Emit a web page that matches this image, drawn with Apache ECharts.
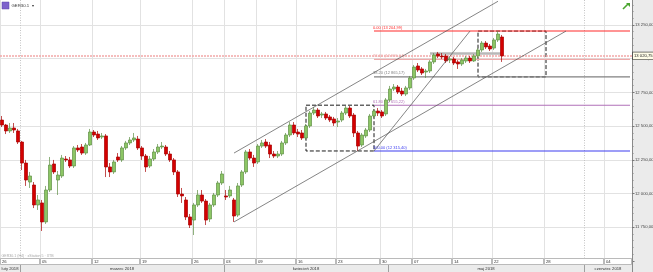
<!DOCTYPE html>
<html><head><meta charset="utf-8">
<script src="https://cdn.jsdelivr.net/npm/echarts/dist/echarts.min.js"></script>
<style>html,body{margin:0;padding:0;background:#fff}#c{width:653px;height:272px}</style>
</head><body><div id="c"></div>
<script>
// ---------- DATA ----------
const days = [
 '2018-02-26','2018-02-27','2018-02-28','2018-03-01','2018-03-02',
 '2018-03-05','2018-03-06','2018-03-07','2018-03-08','2018-03-09',
 '2018-03-12','2018-03-13','2018-03-14','2018-03-15','2018-03-16',
 '2018-03-19','2018-03-20','2018-03-21','2018-03-22','2018-03-23',
 '2018-03-26','2018-03-27','2018-03-28','2018-03-29',
 '2018-04-03','2018-04-04','2018-04-05','2018-04-06',
 '2018-04-09','2018-04-10','2018-04-11','2018-04-12','2018-04-13',
 '2018-04-16','2018-04-17','2018-04-18','2018-04-19','2018-04-20',
 '2018-04-23','2018-04-24','2018-04-25','2018-04-26','2018-04-27',
 '2018-04-30','2018-05-02','2018-05-03','2018-05-04',
 '2018-05-07','2018-05-08','2018-05-09','2018-05-10','2018-05-11',
 '2018-05-14','2018-05-15','2018-05-16','2018-05-17','2018-05-18',
 '2018-05-22','2018-05-23','2018-05-24','2018-05-25',
 '2018-05-28','2018-05-29','2018-05-30','2018-05-31','2018-06-01',
 '2018-06-04','2018-06-05'];
const candlesPerDay = [2,2,1,2,3, 3,3,3,2,2, 3,3,2,2,2, 3,3,3,2,2, 2,2,2,2, 2,2,2,2,
 2,2,2,2,2, 2,2,2,2,2, 3,2,2,2,2, 2,2,2,2, 2,2,2,2,2, 2,2,2,2,2, 2,3,4,4, 3,2,3,2,5, 3,4];

const opens = [12545,12508,12464,12486,12464,12382,12226,12085,12063,11915,
 11930,11789,12026,12219,12100,12130,12256,12249,12204,12338,
 12345,12300,12360,12456,12441,12419,12427,12197,12160,12271,
 12249,12338,12375,12397,12404,12338,12278,12204,12256,12308,
 12345,12345,12293,12249,12160,11996,11952,11826,11803,11915,
 11989,11944,11811,11915,11989,12078,11982,11982,11952,11840,
 12063,12160,12308,12263,12234,12352,12382,12360,12293,12278,
 12293,12375,12434,12508,12456,12449,12412,12501,12597,12619,
 12582,12590,12568,12553,12530,12545,12597,12634,12582,12449,
 12360,12427,12471,12575,12612,12605,12590,12694,12775,12790,
 12760,12738,12783,12857,12946,12924,12901,12909,12976,13035,
 13020,13020,12990,12998,12976,12961,12983,13005,12983,13020,
 13065,13116,13094,13079,13139,13161];
const closes = [12508,12464,12486,12471,12382,12226,12100,12130,11915,11952,
 11789,12026,12211,12160,12137,12263,12249,12204,12338,12323,
 12300,12360,12456,12434,12412,12427,12197,12160,12234,12249,
 12338,12375,12397,12412,12338,12278,12197,12256,12308,12345,
 12352,12293,12249,12160,11996,11982,11826,11766,11915,11989,
 11944,11803,11915,11989,12078,12145,11974,12026,11833,12056,
 12160,12308,12263,12226,12352,12375,12352,12293,12278,12293,
 12375,12434,12508,12449,12441,12412,12501,12597,12619,12575,
 12590,12560,12545,12523,12538,12597,12634,12575,12449,12352,
 12434,12471,12575,12612,12597,12575,12694,12775,12790,12753,
 12738,12783,12857,12938,12916,12894,12909,12976,13027,13020,
 13013,12983,12998,12968,12961,12990,13005,12983,13020,13065,
 13116,13087,13072,13139,13183,13020.75];
const lows = [12493,12441,12449,12449,12367,12174,12056,12041,11892,11878,
 11722,11774,12011,12145,11989,12115,12234,12189,12189,12308,
 12286,12286,12352,12419,12397,12404,12122,12122,12145,12234,
 12234,12323,12360,12382,12323,12249,12160,12189,12241,12293,
 12330,12278,12234,12137,11974,11930,11803,11744,11692,11900,
 11930,11766,11789,11900,11974,12063,11952,11967,11789,11826,
 12048,12145,12249,12197,12219,12338,12338,12263,12263,12263,
 12278,12360,12419,12434,12419,12397,12397,12486,12582,12560,
 12560,12545,12530,12501,12493,12530,12582,12560,12419,12315.4,
 12345,12412,12456,12560,12575,12560,12575,12679,12760,12738,
 12723,12723,12768,12842,12901,12879,12857,12894,12961,13005,
 12998,12968,12968,12953,12924,12946,12968,12968,12976,13005,
 13050,13072,13057,13065,13124,12976];
const highs = [12575,12516,12523,12523,12479,12390,12249,12160,12085,11989,
 11952,12056,12271,12249,12167,12286,12278,12271,12352,12360,
 12367,12375,12479,12471,12464,12449,12441,12226,12249,12300,
 12352,12390,12419,12449,12427,12352,12293,12278,12330,12367,
 12382,12360,12315,12263,12174,12041,11974,11848,11930,12026,
 12026,11959,11930,12004,12093,12167,12026,12056,11967,12078,
 12174,12323,12330,12286,12367,12397,12404,12382,12315,12315,
 12390,12449,12530,12530,12479,12471,12516,12612,12641,12634,
 12605,12605,12582,12568,12560,12612,12649,12649,12597,12464,
 12449,12486,12590,12627,12634,12619,12708,12798,12812,12805,
 12783,12798,12872,12953,12968,12938,12924,12990,13042,13050,
 13042,13035,13013,13013,12990,13005,13020,13020,13035,13079,
 13131,13131,13109,13154,13204.99,13176];

const yTicks = [11750,12000,12250,12500,12750,13000,13250];
const weekTickDays = ['2018-02-26','2018-03-05','2018-03-12','2018-03-19','2018-03-26','2018-04-03','2018-04-09','2018-04-16','2018-04-23','2018-04-30','2018-05-07','2018-05-14','2018-05-22','2018-05-28','2018-06-04'];
const weekTickLabels = ['26','05','12','19','26','03','09','16','23','30','07','14','22','28','04'];
const monthStartDays = ['2018-02-26','2018-03-01','2018-04-03','2018-05-02','2018-06-01'];
const monthLabels = ['luty 2018','marzec 2018','kwiecień 2018','maj 2018','czerwiec 2018'];
const dottedMonthDays = ['2018-03-01','2018-06-01'];

const fibLevels = [0, 23.6, 38.2, 61.8, 100];
const fibValues = [13204.99, 12995.04, 12865.17, 12655.22, 12315.40];
const fibStartIndex = 93;
const lastPrice = 13020.75;
// boxes: [startCandleIndex, endCandleIndex, top, bottom]
const boxes = [[76, 93, 12655.22, 12315.40], [119, 136, 13204.99, 12865.17]];
// trend lines: [idx1, value1, idx2, value2]
const trendLines = [[58, 12300, 124, 13426], [58, 11789, 141, 13205], [93, 12315.40, 117, 13204.99]];
// horizontal resistance zone: [idx1, idx2, value]
const zoneLine = [107, 125, 13042];

// ---------- BUILD ----------
const categories = days.flatMap((d, i) => Array.from({length: candlesPerDay[i]}, (_, k) => d + ' ' + (k + 1)));
const ohlc = opens.map((o, i) => [o, closes[i], lows[i], highs[i]]);
const firstSlot = d => d + ' 1';
const weekIdx = new Set(weekTickDays.map(d => categories.indexOf(firstSlot(d))));
const lastCat = categories[categories.length - 1];

function fmt(v) {
  const [a, b] = Number(v).toFixed(2).split('.');
  return a.replace(/\B(?=(\d{3})+(?!\d))/g, ' ') + ',' + b;
}
const fibColors = ['#ff2a2a', '#eeaaaa', '#808080', '#b070b8', '#3c3cf0'];
const FONT = 'Liberation Sans, Arial, sans-serif';

const fibSeries = fibValues.map((v, i) => ({
  type: 'line', symbol: 'none', silent: true, z: 3,
  lineStyle: {color: fibColors[i], width: 1.1, type: 'solid'},
  itemStyle: {color: fibColors[i]},
  data: [[categories[fibStartIndex], v], [lastCat, v]],
  endLabel: {show: false},
  markPoint: {
    symbol: 'rect', symbolSize: 0.01, silent: true,
    label: {show: true, position: 'right', distance: 0, offset: [-1, -3.5], fontSize: 4, color: fibColors[i], fontFamily: FONT,
            formatter: fibLevels[i].toFixed(2) + ' (' + fmt(v) + ')'},
    data: [{coord: [categories[fibStartIndex], v]}]
  }
}));

const option = {
  animation: false,
  backgroundColor: '#fff',
  grid: {left: 0, right: 21, top: -8.7, bottom: 11.1, containLabel: false, outerBoundsMode: 'none'},
  xAxis: {
    type: 'category', data: categories, boundaryGap: true,
    axisLine: {show: false}, axisTick: {show: false}, axisLabel: {show: false},
    splitLine: {show: true, interval: (idx) => weekIdx.has(idx), lineStyle: {color: '#e2e2e2', width: 1}}
  },
  yAxis: {
    type: 'value', position: 'right', min: 11500, max: 13500, interval: 250,
    axisLine: {show: true, lineStyle: {color: '#8a8a8a', width: 1}},
    axisTick: {show: true, length: 2.5, lineStyle: {color: '#777'}},
    minorTick: {show: true, splitNumber: 5, length: 1.5, lineStyle: {color: '#888'}},
    axisLabel: {fontSize: 4.2, color: '#444', margin: 3, fontFamily: FONT,
      formatter: v => yTicks.includes(v) ? fmt(v) : ''},
    splitLine: {show: true, lineStyle: {color: '#e2e2e2', width: 1}}
  },
  series: [
    {
      type: 'candlestick', data: ohlc, barWidth: 2.6, z: 5,
      itemStyle: {color: '#8cc665', color0: '#d40000', borderColor: '#5f8f45', borderColor0: '#a80000', borderWidth: 0.7},
      markLine: {
        silent: true, symbol: ['none', 'none'], animation: false,
        data: [
          [{xAxis: categories[zoneLine[0]], yAxis: zoneLine[2], lineStyle: {color: '#b8b8b8', width: 2.5, type: 'solid'}, label: {show: false}},
           {xAxis: categories[zoneLine[1]], yAxis: zoneLine[2]}],
          {yAxis: lastPrice, lineStyle: {color: '#f2a8a8', width: 1.5, type: [2, 1]},
           label: {show: true, position: 'end', distance: 1, formatter: fmt(lastPrice), fontSize: 4.2, color: '#222', fontFamily: FONT,
                   backgroundColor: '#fffde8', borderColor: '#333', borderWidth: 0.6, padding: [1.5, 1]}}
        ]
      },
      markArea: {
        silent: true,
        itemStyle: {color: 'rgba(0,0,0,0)', borderColor: '#1a1a1a', borderWidth: 1, borderType: 'dashed'},
        data: boxes.map(b => [{xAxis: categories[b[0]], yAxis: b[2]}, {xAxis: categories[b[1]], yAxis: b[3]}])
      }
    },
    ...fibSeries,
    ...trendLines.map(t => ({
      type: 'line', symbol: 'none', silent: true, z: 6, clip: true,
      lineStyle: {color: '#505050', width: 0.7},
      data: [[categories[t[0]], t[1]], [categories[t[2]], t[3]]]
    }))
  ]
};

const chart = echarts.init(document.getElementById('c'), null, {renderer: 'canvas'});
chart.setOption(option);

// ---------- axis decorations computed from the chart's own scales ----------
const px = c => chart.convertToPixel({xAxisIndex: 0}, c);
const bw = px(categories[1]) - px(categories[0]);
const leftOf = c => px(c) - bw / 2;
const plotLeft = leftOf(categories[0]);
const plotRight = leftOf(lastCat) + bw;
const W = 653, H = 272, R1 = 258, R2 = 265;
const g = [];
g.push({type: 'rect', z: -5, shape: {x: plotRight, y: 0, width: W - plotRight, height: H}, style: {fill: '#ebebeb'}});
dottedMonthDays.forEach(d => {
  const x = Math.round(leftOf(firstSlot(d))) + 0.5;
  g.push({type: 'line', z: 1, shape: {x1: x, y1: 0, x2: x, y2: R1}, style: {stroke: '#c4c4c4', lineWidth: 1, lineDash: [1, 1.5]}});
});
g.push({type: 'rect', z: 20, shape: {x: 0, y: R1, width: plotRight, height: H - R1}, style: {fill: '#ebebeb'}});
weekTickDays.forEach((d, i) => {
  const x0 = leftOf(firstSlot(d));
  const x1 = i + 1 < weekTickDays.length ? leftOf(firstSlot(weekTickDays[i + 1])) : plotRight;
  g.push({type: 'rect', z: 21, shape: {x: Math.round(x0) + 0.5, y: R1 + 0.5, width: Math.round(x1 - x0) - 1, height: R2 - R1 - 1},
          style: {fill: '#fff', stroke: '#a0a0a0', lineWidth: 0.7}});
  g.push({type: 'text', z: 22, style: {text: weekTickLabels[i], x: x0 + 2, y: R1 + 3.7, fontSize: 4.2, fontFamily: FONT, fill: '#333', verticalAlign: 'middle'}});
});
monthStartDays.forEach((d, i) => {
  const x0 = i === 0 ? plotLeft : leftOf(firstSlot(d));
  const x1 = i + 1 < monthStartDays.length ? leftOf(firstSlot(monthStartDays[i + 1])) : plotRight;
  g.push({type: 'line', z: 21, shape: {x1: Math.round(x1) + 0.5, y1: R2, x2: Math.round(x1) + 0.5, y2: H}, style: {stroke: '#8c8c8c', lineWidth: 0.8}});
  g.push({type: 'text', z: 22, style: {text: monthLabels[i], x: (x0 + x1) / 2, y: R2 + 3.7, fontSize: 4.2, fontFamily: FONT, fill: '#333', align: 'center', verticalAlign: 'middle'}});
});
g.push({type: 'line', z: 21, shape: {x1: plotRight + 0.5, y1: R1, x2: plotRight + 0.5, y2: H}, style: {stroke: '#8a8a8a', lineWidth: 1}});
// header
g.push({type: 'rect', z: 30, shape: {x: 2, y: 2, width: 7, height: 7}, style: {fill: '#7d62cc', stroke: '#5a44a8', lineWidth: 0.5}});
g.push({type: 'text', z: 30, style: {text: 'GER30.1  ▾', x: 11.5, y: 5.8, fontSize: 4.3, fontFamily: FONT, fill: '#333', verticalAlign: 'middle'}});
g.push({type: 'polyline', z: 30, shape: {points: [[623, 9], [628, 4]]}, style: {stroke: '#4aa52e', lineWidth: 1.6}});
g.push({type: 'polygon', z: 30, shape: {points: [[626, 3], [630, 3], [630, 7]]}, style: {fill: '#4aa52e'}});
g.push({type: 'text', z: 30, style: {text: 'GER30.1 (H4) · xStation 5 · XTB', x: 1.5, y: 255.5, fontSize: 3.6, fontFamily: FONT, fill: '#a8a8a8', verticalAlign: 'middle'}});
chart.setOption({graphic: g});
</script>
</body></html>
